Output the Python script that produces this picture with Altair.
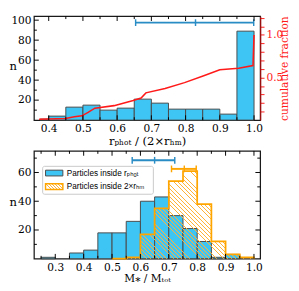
import altair as alt
import pandas as pd

# ---------------- data ----------------
# top panel: histogram of r_phot / (2 r_hm)
top_edges = [0.375, 0.40, 0.45, 0.50, 0.55, 0.60, 0.65, 0.70, 0.75, 0.80, 0.85, 0.90, 0.95, 1.00]
top_counts = [1, 4, 13, 15, 10, 12, 21, 17, 11, 11, 11, 6, 89]
# cumulative fraction (red line)
cum_x = [0.372, 0.449, 0.475, 0.497, 0.515, 0.535, 0.591, 0.647, 0.670, 0.684, 0.740,
         0.797, 0.853, 0.900, 0.927, 0.955, 0.997, 1.000]
cum_y = [0.01, 0.02, 0.04, 0.05, 0.09, 0.14, 0.17, 0.23, 0.26, 0.32, 0.37,
         0.44, 0.52, 0.59, 0.60, 0.61, 0.64, 1.00]
top_err = {"lo": 0.654, "mid": 0.829, "hi": 0.999, "y": 97.5}

# bottom panel: M* / Mtot
bot_edges = [0.25, 0.30, 0.35, 0.40, 0.45, 0.50, 0.55, 0.60, 0.65, 0.70, 0.75, 0.80, 0.85, 0.90, 0.95, 1.00]
blue_counts = [1, 0, 4, 6, 18, 18, 26, 40, 43, 30, 21, 12, 1, 3, 0]
orange_edges = [0.50, 0.55, 0.60, 0.65, 0.70, 0.75, 0.80, 0.85, 0.90, 0.95, 1.00]
orange_counts = [0, 1, 17, 35, 54, 61, 38, 12, 3, 1]
blue_err = {"lo": 0.571, "mid": 0.650, "hi": 0.721, "y": 68.5}
orange_err = {"lo": 0.7095, "mid": 0.7546, "hi": 0.7966, "y": 62.5}

top_xmaj = [0.4, 0.5, 0.6, 0.7, 0.8, 0.9, 1.0]
top_xmin = [0.45, 0.55, 0.65, 0.75, 0.85, 0.95]
top_ymaj = [20, 40, 60, 80, 100]
top_ymin = [10, 30, 50, 70, 90]
frac_ticks = [0.1, 0.2, 0.3, 0.4, 0.5, 0.6, 0.7, 0.8, 0.9, 1.0, 1.1, 1.2]
bot_xmaj = [0.3, 0.4, 0.5, 0.6, 0.7, 0.8, 0.9, 1.0]
bot_xmin = [0.25, 0.35, 0.45, 0.55, 0.65, 0.75, 0.85, 0.95]
bot_ymaj = [20, 40, 60]
bot_ymin = [10, 30, 50, 70]

# ---------------- styling ----------------
W = 235
H1 = 108
H2 = 112
BLUE = "#3ec5f3"
EDGE = "#4a4a4a"
ERRBLUE = "#2a8cc4"
ORANGE = "#ffa500"
HATCH = "#ffb33a"
RED = "#ff1a1a"
SERIF = "DejaVu Serif"
SANS = "Liberation Sans, DejaVu Sans"

xs1 = alt.Scale(domain=[0.357, 1.018], nice=False, zero=False)
ys1 = alt.Scale(domain=[0, 104], nice=False)
yr1 = alt.Scale(domain=[0, 1.22], nice=False)
xs2 = alt.Scale(domain=[0.225, 1.022], nice=False, zero=False)
ys2 = alt.Scale(domain=[0, 75], nice=False)


def hatch(wp, hp, s=4.0, lw=0.85, color=HATCH):
    L = wp + hp
    k = (1 + hp / wp) / (1 + (hp / wp) ** 2)
    stops = []
    i = 0
    clear = "rgba(255,179,58,0)"
    while i * s < L:
        a = i * s / L
        b = min((i * s + lw) / L, 1.0)
        c = min((i + 1) * s / L, 1.0)
        stops += [alt.GradientStop(color=color, offset=a),
                  alt.GradientStop(color=color, offset=b),
                  alt.GradientStop(color=clear, offset=b),
                  alt.GradientStop(color=clear, offset=c)]
        i += 1
    return alt.LinearGradient(gradient="linear", stops=stops,
                              x1=0, y1=1, x2=k, y2=1 - k * hp / wp)


def xticks(vals, scale, H, L, top):
    df = pd.DataFrame({"v": vals})
    if top:
        ey = dict(y=alt.value(0), y2=alt.value(L))
    else:
        ey = dict(y=alt.value(H), y2=alt.value(H - L))
    return alt.Chart(df).mark_rule(color="black", strokeWidth=1).encode(
        x=alt.X("v:Q", scale=scale, axis=None), **ey)


def yticks(vals, scale, L, right):
    df = pd.DataFrame({"v": vals})
    if right:
        ex = dict(x=alt.value(W), x2=alt.value(W - L))
    else:
        ex = dict(x=alt.value(0), x2=alt.value(L))
    return alt.Chart(df).mark_rule(color="black", strokeWidth=1).encode(
        y=alt.Y("v:Q", scale=scale, axis=None), **ex)


def errbar(e, xs, ys, color):
    df = pd.DataFrame({"lo": [e["lo"]], "hi": [e["hi"]], "y": [e["y"]]})
    caps = pd.DataFrame({"x": [e["lo"], e["mid"], e["hi"]], "y": [e["y"]] * 3})
    line = alt.Chart(df).mark_rule(color=color, strokeWidth=2).encode(
        x=alt.X("lo:Q", scale=xs, axis=None), x2="hi:Q",
        y=alt.Y("y:Q", scale=ys, axis=None))
    cap = alt.Chart(caps).mark_point(shape="M0,-1L0,1", size=49, filled=False,
                                     color=color, strokeWidth=1.5, opacity=1).encode(
        x=alt.X("x:Q", scale=xs, axis=None), y=alt.Y("y:Q", scale=ys, axis=None))
    return [line, cap]


# ---------------- top panel ----------------
df_top = pd.DataFrame({"x0": top_edges[:-1], "x1": top_edges[1:], "n": top_counts})
bars1 = alt.Chart(df_top).mark_bar(fill=BLUE, stroke=EDGE, strokeWidth=1).encode(
    x=alt.X("x0:Q", scale=xs1,
            axis=alt.Axis(values=top_xmaj, format=".1f", ticks=False, domain=False,
                          labelFlush=False, labelPadding=3,
                          title="rₚₕₒₜ / (2×rₕₘ)", titlePadding=2)),
    x2="x1:Q",
    y=alt.Y("n:Q", scale=ys1,
            axis=alt.Axis(values=top_ymaj, ticks=False, domain=False, labelPadding=3,
                          title="n", titleAngle=0, titleX=-22, titleY=H1 / 2 - 3,
                          titleAlign="center", titleBaseline="middle")),
    y2=alt.datum(0),
)

df_cum = pd.DataFrame({"x": cum_x, "f": cum_y})
cum = alt.Chart(df_cum).mark_line(color=RED, strokeWidth=1.6).encode(
    x=alt.X("x:Q", scale=xs1, axis=None),
    y=alt.Y("f:Q", scale=yr1,
            axis=alt.Axis(orient="right", values=frac_ticks,
                          labelExpr="datum.value == 0.5 || datum.value == 1 ? format(datum.value, '.1f') : ''",
                          tickSize=4, tickColor=RED, domainColor="#a01010", domainWidth=1.3,
                          labelColor=RED, labelPadding=2,
                          title="cumulative fraction", titleColor=RED, titleFontSize=11,
                          titleAngle=270, titlePadding=7)),
)

top_layers = [bars1, cum] + errbar(top_err, xs1, ys1, ERRBLUE) + [
    xticks(top_xmaj, xs1, H1, 5, False), xticks(top_xmin, xs1, H1, 3, False),
    xticks(top_xmaj, xs1, H1, 5, True), xticks(top_xmin, xs1, H1, 3, True),
    yticks(top_ymaj, ys1, 5, False), yticks(top_ymin, ys1, 3, False),
]
top = alt.layer(*top_layers).resolve_scale(y="independent").resolve_axis(
    x="independent", y="independent").properties(width=W, height=H1)

# ---------------- bottom panel ----------------
df_blue = pd.DataFrame({"x0": bot_edges[:-1], "x1": bot_edges[1:], "n": blue_counts})
df_blue = df_blue[df_blue["n"] > 0]
bars2 = alt.Chart(df_blue).mark_bar(fill=BLUE, stroke=EDGE, strokeWidth=1).encode(
    x=alt.X("x0:Q", scale=xs2,
            axis=alt.Axis(values=bot_xmaj, format=".1f", ticks=False, domain=False,
                          labelFlush=False, labelPadding=3,
                          title="M⁎ / Mₜₒₜ", titlePadding=1, titleFontSize=11)),
    x2="x1:Q",
    y=alt.Y("n:Q", scale=ys2,
            axis=alt.Axis(values=bot_ymaj, ticks=False, domain=False, labelPadding=3,
                          title="n", titleAngle=0, titleX=-22, titleY=H2 / 2 - 3,
                          titleAlign="center", titleBaseline="middle")),
    y2=alt.datum(0),
)

df_or = pd.DataFrame({"x": orange_edges, "n": orange_counts + [0]})
px_per_x = W / (1.022 - 0.225)
px_per_y = H2 / 75.0
area_w = (orange_edges[-1] - orange_edges[0]) * px_per_x
area_h = max(orange_counts) * px_per_y
or_area = alt.Chart(df_or).mark_area(interpolate="step-after",
                                     fill=hatch(area_w, area_h), strokeWidth=0).encode(
    x=alt.X("x:Q", scale=xs2, axis=None), y=alt.Y("n:Q", scale=ys2, axis=None))
or_line = alt.Chart(df_or).mark_line(interpolate="step-after", color=ORANGE, strokeWidth=1.8).encode(
    x=alt.X("x:Q", scale=xs2, axis=None), y=alt.Y("n:Q", scale=ys2, axis=None))

one = pd.DataFrame({"a": [0]})
leg_box = alt.Chart(one).mark_rect(fill="white", stroke="#c8c8c8", strokeWidth=1,
                                   cornerRadius=2).encode(
    x=alt.value(9), x2=alt.value(124), y=alt.value(16), y2=alt.value(45))
leg_sw1 = alt.Chart(one).mark_rect(fill=BLUE, stroke=EDGE, strokeWidth=1).encode(
    x=alt.value(12), x2=alt.value(30), y=alt.value(20), y2=alt.value(26))
leg_sw2 = alt.Chart(one).mark_rect(fill=hatch(18, 6, s=3.0, lw=0.9), stroke=ORANGE,
                                   strokeWidth=1.5).encode(
    x=alt.value(12), x2=alt.value(30), y=alt.value(34), y2=alt.value(40))
leg_t1 = alt.Chart(one).mark_text(text="Particles inside rₚₕₒₜ", align="left", baseline="middle",
                                  font=SANS, fontSize=8.5, color="black").encode(
    x=alt.value(34), y=alt.value(23))
leg_t2 = alt.Chart(one).mark_text(text="Particles inside 2×rₕₘ", align="left", baseline="middle",
                                  font=SANS, fontSize=8.5, color="black").encode(
    x=alt.value(34), y=alt.value(37))

bot_layers = [bars2, or_area, or_line] + errbar(blue_err, xs2, ys2, ERRBLUE) + \
    errbar(orange_err, xs2, ys2, ORANGE) + [
    leg_box, leg_sw1, leg_sw2, leg_t1, leg_t2,
    xticks(bot_xmaj, xs2, H2, 5, False), xticks(bot_xmin, xs2, H2, 3, False),
    xticks(bot_xmaj, xs2, H2, 5, True), xticks(bot_xmin, xs2, H2, 3, True),
    yticks(bot_ymaj, ys2, 5, False), yticks(bot_ymin, ys2, 3, False),
    yticks(bot_ymaj, ys2, 5, True), yticks(bot_ymin, ys2, 3, True),
]
bottom = alt.layer(*bot_layers).resolve_axis(x="independent", y="independent").properties(
    width=W, height=H2)

chart = alt.vconcat(top, bottom, spacing=32, bounds="flush").properties(
    padding={"left": 0, "top": 0, "right": 0, "bottom": 0}
).configure_view(stroke="#1a1a1a", strokeWidth=1.3).configure_axis(
    grid=False, labelFont=SERIF, labelFontSize=11, labelColor="black",
    titleFont=SERIF, titleFontSize=12, titleFontWeight="normal", titleColor="black"
)

chart.save("out.html", embed_options={"renderer": "svg", "actions": False})
